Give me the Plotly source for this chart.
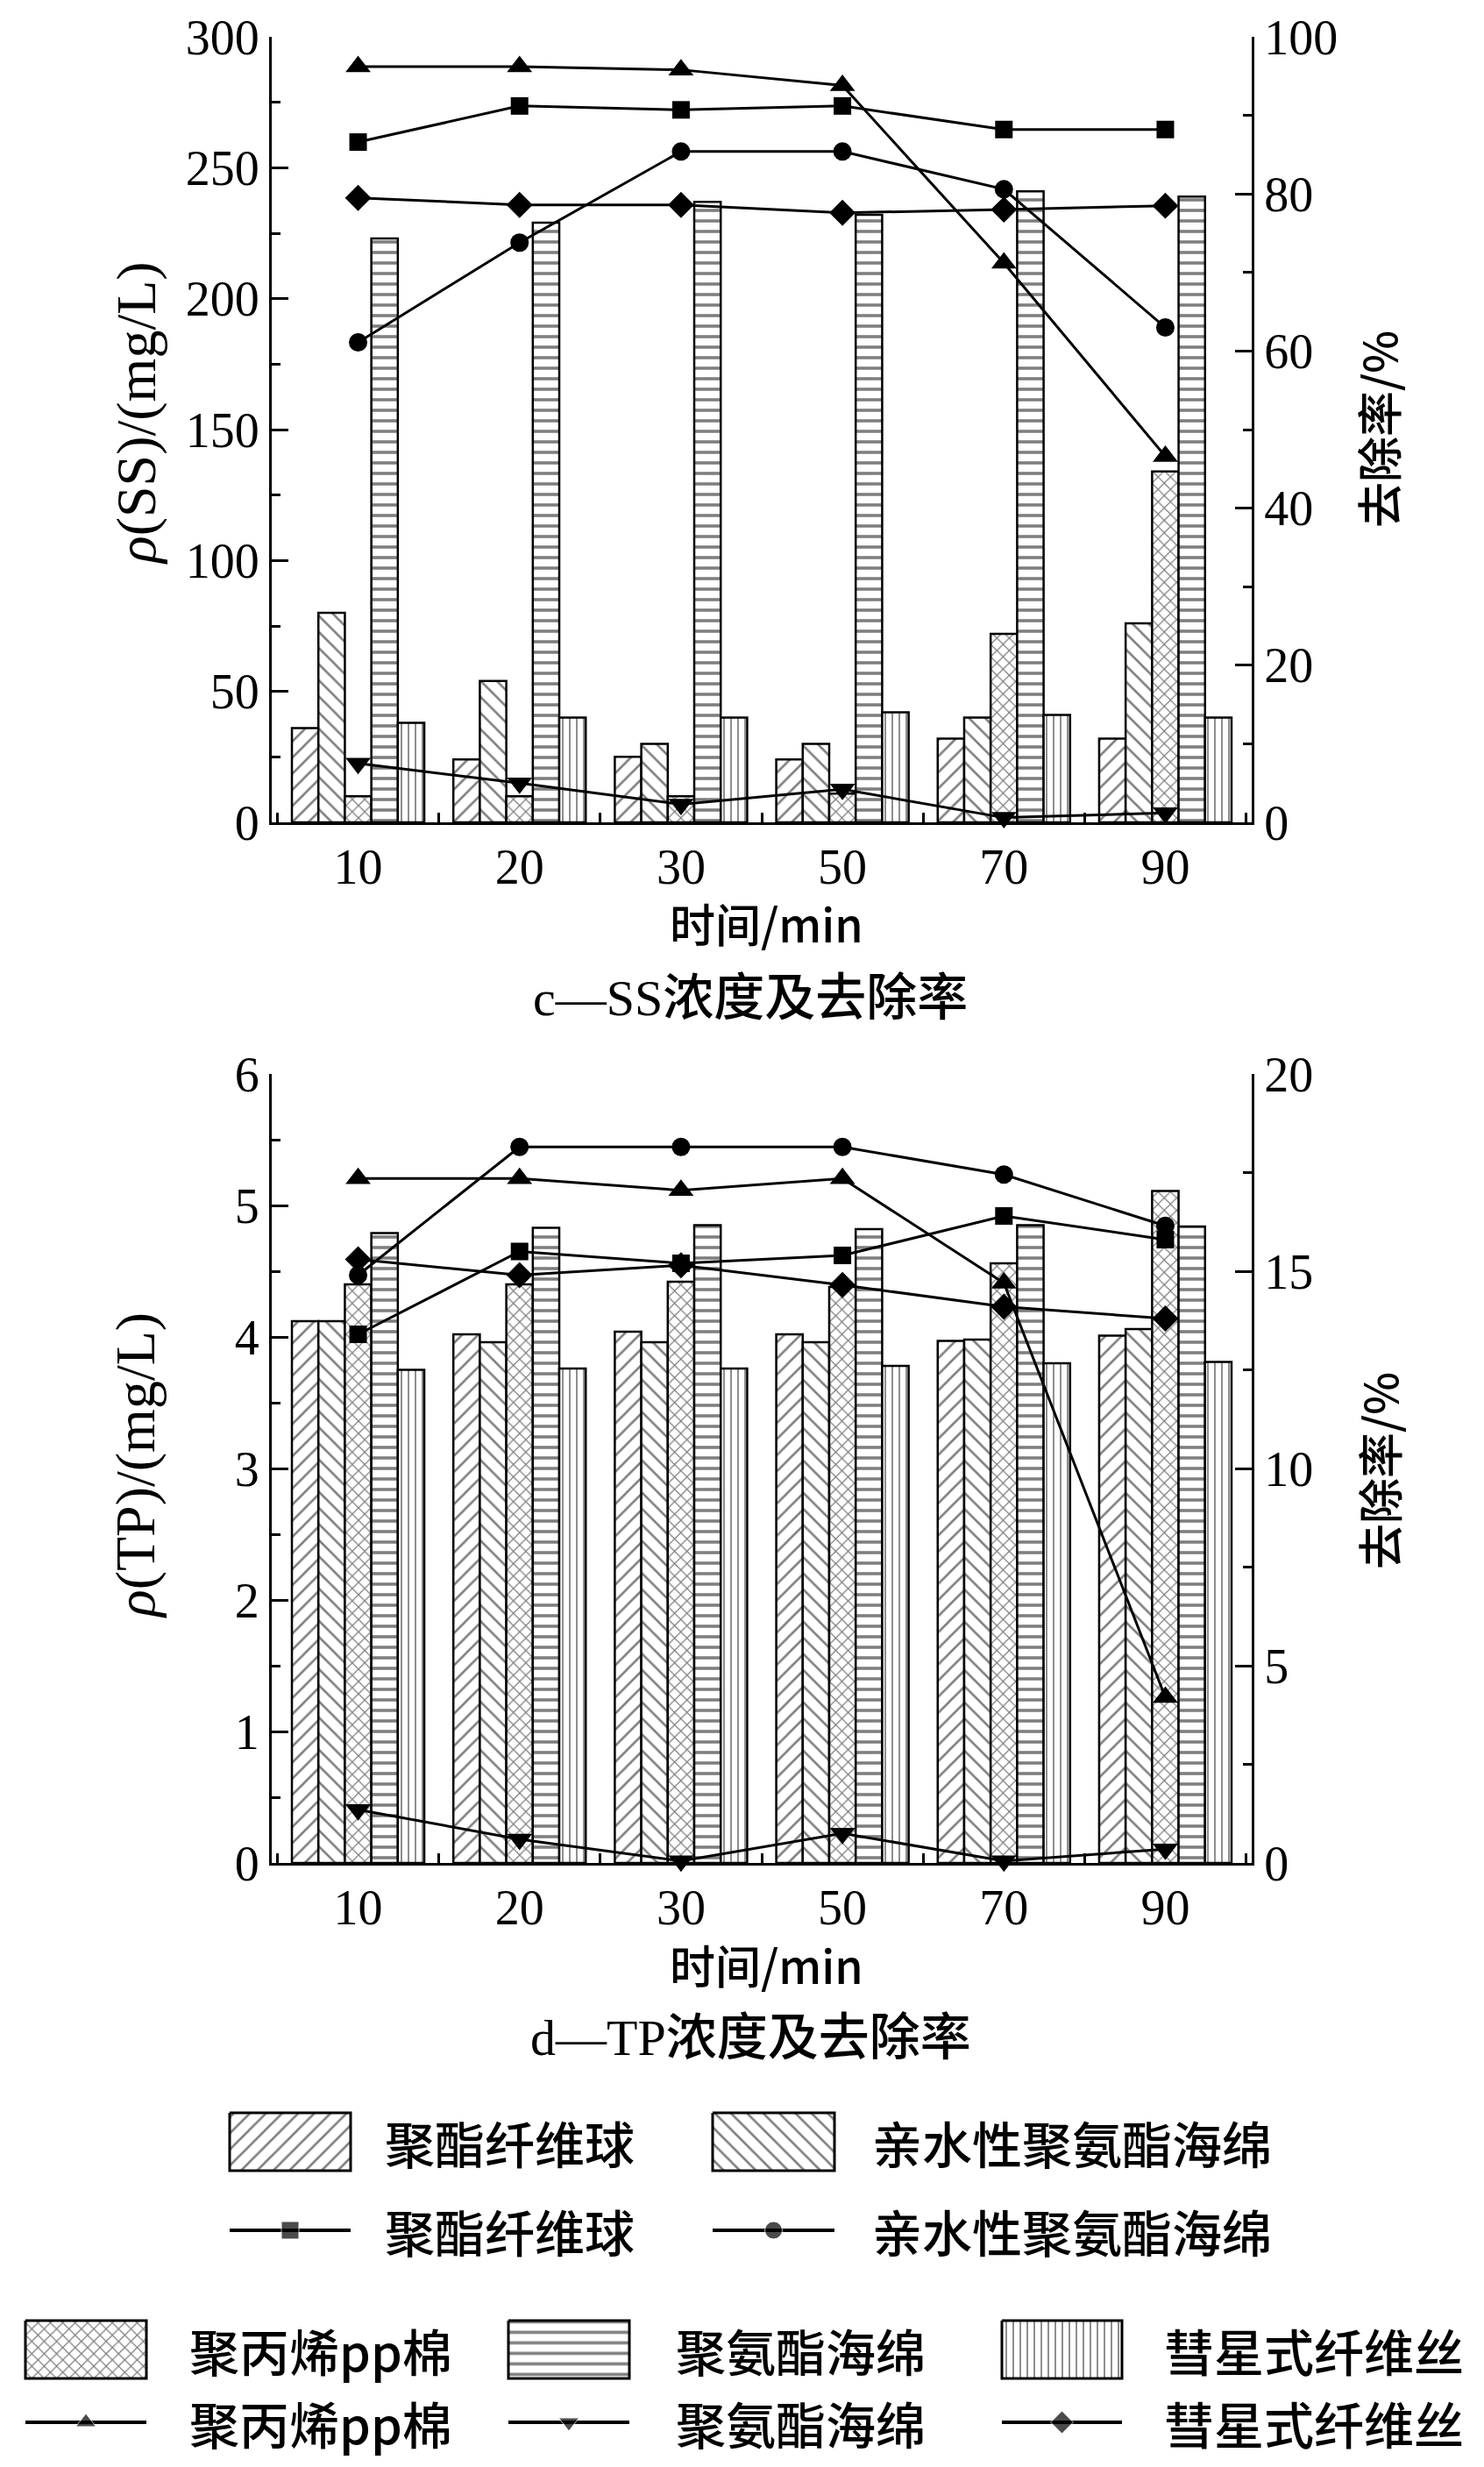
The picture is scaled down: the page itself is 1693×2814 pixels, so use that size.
import plotly.graph_objects as go

# ---------------- data ----------------
times = ["10", "20", "30", "50", "70", "90"]
materials = ["聚酯纤维球", "亲水性聚氨酯海绵", "聚丙烯pp棉", "聚氨酯海绵", "彗星式纤维丝"]

# SS concentration (mg/L)
ss_poly_ball = [36, 24, 25, 24, 32, 32]
ss_hydro_pu = [80, 54, 30, 30, 40, 76]
ss_pp = [10, 10, 10, 11, 72, 134]
ss_pu = [223, 229, 237, 232, 241, 239]
ss_comet = [38, 40, 40, 42, 41, 40]
# SS removal rate (%)
ssr_poly_ball = [86.6, 91.2, 90.7, 91.2, 88.2, 88.2]
ssr_hydro_pu = [61.1, 73.8, 85.4, 85.4, 80.6, 63.0]
ssr_pp = [96.2, 96.2, 95.8, 93.8, 71.2, 46.6]
ssr_pu = [7.5, 5.0, 2.3, 4.2, 0.6, 1.2]
ssr_comet = [79.5, 78.6, 78.6, 77.6, 78.0, 78.5]

# TP concentration (mg/L)
tp_poly_ball = [4.12, 4.02, 4.04, 4.02, 3.97, 4.01]
tp_hydro_pu = [4.12, 3.96, 3.96, 3.96, 3.98, 4.06]
tp_pp = [4.40, 4.40, 4.42, 4.38, 4.56, 5.11]
tp_pu = [4.79, 4.83, 4.85, 4.82, 4.85, 4.84]
tp_comet = [3.75, 3.76, 3.76, 3.78, 3.80, 3.81]
# TP removal rate (%)
tpr_poly_ball = [13.4, 15.5, 15.2, 15.4, 16.4, 15.8]
tpr_hydro_pu = [14.9, 18.15, 18.15, 18.15, 17.45, 16.15]
tpr_pp = [17.35, 17.35, 17.05, 17.35, 14.7, 4.2]
tpr_pu = [1.35, 0.6, 0.05, 0.75, 0.05, 0.35]
tpr_comet = [15.3, 14.9, 15.15, 14.65, 14.1, 13.8]

# ---------------- styles ----------------
PAGE_W, PAGE_H = 1693, 2814
BODY = 8                      # default page margin around the plot div
W, H = PAGE_W - 2 * BODY, PAGE_H - 2 * BODY
SERIF = "Liberation Serif, Noto Sans CJK SC"
CJK = "Noto Sans CJK SC, Liberation Serif"

patterns = [
    dict(shape="/", size=13, solidity=0.2),
    dict(shape="\\", size=13, solidity=0.2),
    dict(shape="x", size=10, solidity=0.24),
    dict(shape="-", size=12, solidity=0.3),
    dict(shape="|", size=8, solidity=0.22),
]
symbols = ["square", "circle", "triangle-up", "triangle-down", "diamond"]
sym_sizes = [20, 21, 25, 25, 23]

ss_bars = [ss_poly_ball, ss_hydro_pu, ss_pp, ss_pu, ss_comet]
ss_rates = [ssr_poly_ball, ssr_hydro_pu, ssr_pp, ssr_pu, ssr_comet]
tp_bars = [tp_poly_ball, tp_hydro_pu, tp_pp, tp_pu, tp_comet]
tp_rates = [tpr_poly_ball, tpr_hydro_pu, tpr_pp, tpr_pu, tpr_comet]

def px_x(p):
    return (p - BODY) / W

def px_y(p):
    return 1 - (p - BODY) / H

fig = go.Figure()

for bars, rates, xa, ya, ya2 in [(ss_bars, ss_rates, "x", "y", "y2"),
                                  (tp_bars, tp_rates, "x2", "y3", "y4")]:
    for name, vals, pat in zip(materials, bars, patterns):
        fig.add_trace(go.Bar(
            x=times, y=vals, name=name, xaxis=xa, yaxis=ya, showlegend=False,
            marker=dict(color="white", line=dict(color="black", width=2.5),
                        pattern=dict(fgcolor="black", bgcolor="white",
                                     fillmode="overlay", **pat)),
        ))
    for name, vals, sym, ms in zip(materials, rates, symbols, sym_sizes):
        fig.add_trace(go.Scatter(
            x=times, y=vals, name=name, xaxis=xa, yaxis=ya2, showlegend=False,
            mode="lines+markers", cliponaxis=False,
            line=dict(color="black", width=3),
            marker=dict(symbol=sym, size=ms, color="black"),
        ))

# ---------------- custom legend (drawn on a hidden page-pixel axis) ----------------
box_h = 66
legend_rows = [
    # (kind, index, x0, x1, yc, text_x)  -- page pixels
    ("box", 0, 262, 400, 2443, 437),
    ("box", 1, 813, 952, 2443, 993),
    ("line", 0, 262, 400, 2544, 437),
    ("line", 1, 813, 952, 2544, 993),
    ("box", 2, 29, 167, 2680, 214),
    ("box", 3, 580, 718, 2680, 769),
    ("box", 4, 1143, 1280, 2680, 1326),
    ("line", 2, 29, 167, 2763, 214),
    ("line", 3, 580, 718, 2763, 769),
    ("line", 4, 1143, 1280, 2763, 1326),
]
annotations = []
for kind, i, x0, x1, yc, tx in legend_rows:
    if kind == "box":
        y0, y1 = yc - box_h / 2, yc + box_h / 2
        fig.add_trace(go.Scatter(
            x=[x0, x1, x1, x0, x0], y=[y0, y0, y1, y1, y0], xaxis="x3", yaxis="y5",
            mode="lines", fill="toself", fillcolor="white",
            fillpattern=dict(fgcolor="black", bgcolor="white", fillmode="overlay", **patterns[i]),
            line=dict(color="black", width=3), showlegend=False, hoverinfo="skip"))
    else:
        fig.add_trace(go.Scatter(
            x=[x0, (x0 + x1) / 2, x1], y=[yc, yc, yc], xaxis="x3", yaxis="y5",
            mode="lines+markers", line=dict(color="black", width=4),
            marker=dict(symbol=symbols[i], size=[0, 20, 0], color="black"),
            showlegend=False, hoverinfo="skip"))
    annotations.append(dict(x=tx, y=yc, xref="x3", yref="y5", text=materials[i],
                            showarrow=False, xanchor="left", yanchor="middle",
                            font=dict(family=CJK, size=57, color="black", weight=500)))

# ---------------- axes ----------------
xd = [px_x(310), px_x(1428)]
top_dom = [px_y(938), px_y(42)]
bot_dom = [px_y(2125), px_y(1225)]
tickfont = dict(family=SERIF, size=56, color="black")

def xax(anchor):
    return dict(domain=xd, anchor=anchor, type="category", range=[-0.535, 5.535],
                showline=True, linewidth=3, linecolor="black", ticks="inside",
                tickson="boundaries", ticklen=11, tickwidth=3, tickcolor="black",
                tickfont=dict(family=SERIF, size=56, color="black"),
                showgrid=False, zeroline=False, automargin=False)

def yax(dom, rng, dtick, minor, side, anchor, overlaying=None):
    d = dict(domain=dom, range=rng, dtick=dtick, tick0=0, side=side, anchor=anchor,
             showline=True, linewidth=3, linecolor="black", ticks="inside",
             ticklen=19, tickwidth=3, tickcolor="black", tickfont=tickfont,
             showgrid=False, zeroline=False, automargin=False,
             minor=dict(dtick=minor, tick0=0, ticks="inside", ticklen=10,
                        tickwidth=3, tickcolor="black", showgrid=False))
    if overlaying:
        d["overlaying"] = overlaying
    return d

leg_dom_h = 0.2
fig.update_layout(
    template="none",
    width=W, height=H, margin=dict(l=0, r=0, t=0, b=0, pad=0, autoexpand=False),
    paper_bgcolor="white", plot_bgcolor="rgba(0,0,0,0)",
    barmode="group", bargap=0.18, bargroupgap=0,
    showlegend=False,
    xaxis=xax("y"),
    yaxis=yax(top_dom, [0, 300], 50, 25, "left", "x"),
    yaxis2=yax(top_dom, [0, 100], 20, 10, "right", "x", overlaying="y"),
    xaxis2=xax("y3"),
    yaxis3=yax(bot_dom, [0, 6], 1, 0.5, "left", "x2"),
    yaxis4=yax(bot_dom, [0, 20], 5, 2.5, "right", "x2", overlaying="y3"),
    xaxis3=dict(domain=[0, 1], range=[BODY, BODY + W], visible=False, anchor="y5",
                automargin=False),
    yaxis5=dict(domain=[0, leg_dom_h], range=[BODY + H, BODY + H - leg_dom_h * H],
                visible=False, anchor="x3", automargin=False),
)

title_font = dict(family=SERIF, size=64, color="black")
cjk_title = dict(family=CJK, size=52, color="black", weight=500)
cap_font = dict(family=SERIF, size=58, color="black", weight=500)

def ann(x, y, text, font, angle=0):
    return dict(x=px_x(x), y=px_y(y), xref="paper", yref="paper", text=text,
                showarrow=False, xanchor="center", yanchor="middle",
                textangle=angle, font=font)

annotations += [
    ann(875, 1052, "时间/min", cjk_title),
    ann(856, 1138, "c—SS浓度及去除率", cap_font),
    ann(875, 2240, "时间/min", cjk_title),
    ann(856, 2324, "d—TP浓度及去除率", cap_font),
    ann(155, 471, "<i>ρ</i>(SS)/(mg/L)", title_font, -90),
    ann(155, 1672, "<i>ρ</i>(TP)/(mg/L)", title_font, -90),
    ann(1572, 490, "去除率/%", cjk_title, -90),
    ann(1572, 1678, "去除率/%", cjk_title, -90),
]
fig.update_layout(annotations=annotations)

fig.write_html("out.html")
